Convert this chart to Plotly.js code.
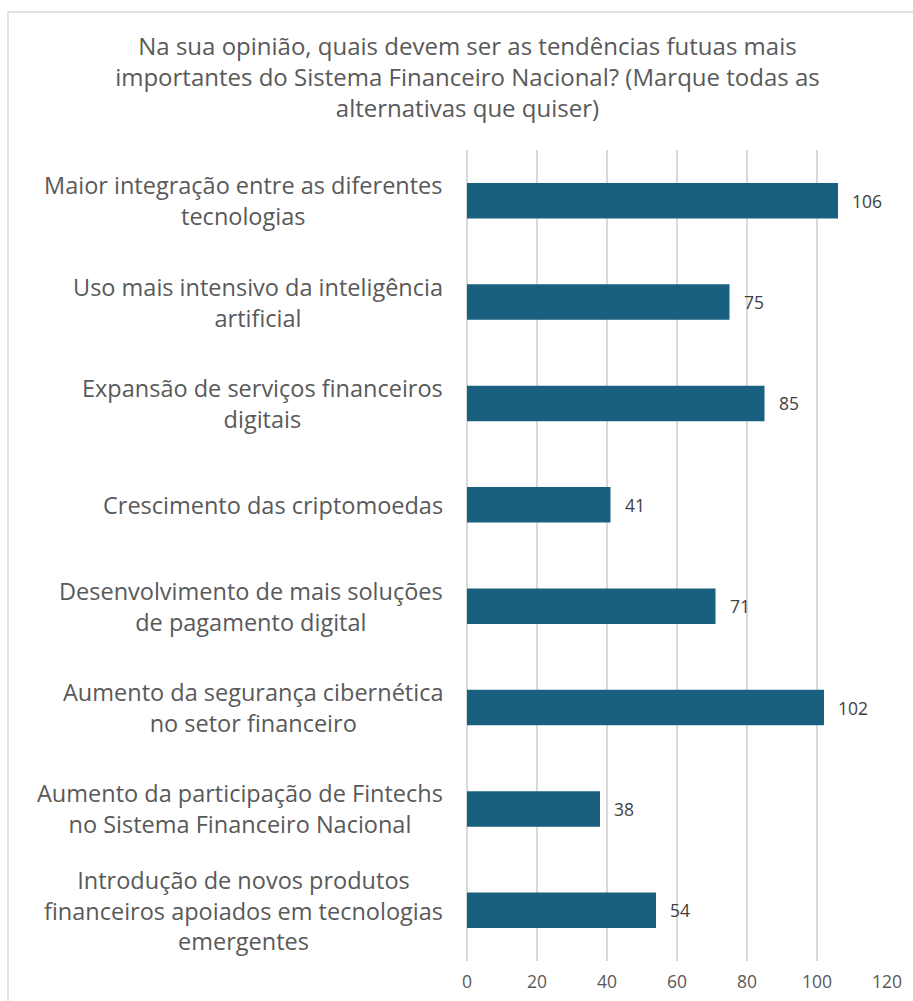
<!DOCTYPE html>
<html>
<head>
<meta charset="utf-8">
<script src="https://cdn.plot.ly/plotly-3.0.1.min.js"></script>
<style>
html,body{margin:0;padding:0;background:#fff;}
#chart{width:913px;height:1001px;}
</style>
</head>
<body>
<div id="chart"></div>
<script>
const categories = [
  "Maior integração entre as diferentes<br>tecnologias",
  "Uso mais intensivo da inteligência<br>artificial",
  "Expansão de serviços financeiros<br>digitais",
  "Crescimento das criptomoedas",
  "Desenvolvimento de mais soluções<br>de pagamento digital",
  "Aumento da segurança cibernética<br>no setor financeiro",
  "Aumento da participação de Fintechs<br>no Sistema Financeiro Nacional",
  "Introdução de novos produtos<br>financeiros apoiados em tecnologias<br>emergentes"
];
const values = [106, 75, 85, 41, 71, 102, 38, 54];
const tickValues = [0, 20, 40, 60, 80, 100, 120];
const titleText = "Na sua opinião, quais devem ser as tendências futuas mais<br>importantes do Sistema Financeiro Nacional? (Marque todas as<br>alternativas que quiser)";

const W = 913, H = 1001;
const mL = 467, mR = 26, mT = 150, mB = 40;
const pw = W - mL - mR, ph = H - mT - mB;
const FONT = "Open Sans, sans-serif";
const GRAY = "#595959";

const annotations = [];
categories.forEach((c, i) => {
  annotations.push({
    x: 0, xref: "paper", y: c, yref: "y",
    text: c, showarrow: false, xanchor: "right", align: "center",
    xshift: -22, font: {family: FONT, size: 23.5, color: GRAY}
  });
  annotations.push({
    x: values[i], xref: "x", y: c, yref: "y",
    text: String(values[i]), showarrow: false, xanchor: "left",
    xshift: 12, font: {family: FONT, size: 17.5, color: "#404040"}
  });
});

const data = [{
  type: "bar",
  orientation: "h",
  y: categories,
  x: values,
  marker: {color: "#185f80"},
  hoverinfo: "none"
}];

const layout = {
  width: W, height: H,
  margin: {l: mL, r: mR, t: mT, b: mB},
  paper_bgcolor: "#fff", plot_bgcolor: "#fff",
  showlegend: false,
  bargap: 0.65,
  title: {
    text: titleText,
    font: {family: FONT, size: 24, color: GRAY},
    xref: "container", x: 0.512, xanchor: "center",
    yref: "container", y: 1 - 55/H, yanchor: "top"
  },
  xaxis: {
    range: [0, 120],
    tickvals: tickValues,
    showgrid: true, gridcolor: "#d9d9d9", gridwidth: 1.5,
    zeroline: true, zerolinecolor: "#d9d9d9", zerolinewidth: 1.5,
    showline: false, ticks: "",
    ticklabelstandoff: 8,
    tickfont: {family: FONT, size: 17.5, color: GRAY},
    fixedrange: true
  },
  yaxis: {
    autorange: "reversed",
    showticklabels: false, showgrid: false, zeroline: false, ticks: "",
    fixedrange: true
  },
  annotations: annotations,
  shapes: [
    {type: "line", xref: "paper", yref: "paper",
     x0: (8 - mL)/pw, x1: (8 - mL)/pw, y0: (H - mB - 12)/ph, y1: -mB/ph - 0.01,
     line: {color: "#d9d9d9", width: 1.5}},
    {type: "line", xref: "paper", yref: "paper",
     x0: (8 - mL)/pw, x1: (W + 5 - mL)/pw, y0: (H - mB - 12)/ph, y1: (H - mB - 12)/ph,
     line: {color: "#d9d9d9", width: 1.5}}
  ]
};

Plotly.newPlot("chart", data, layout, {displayModeBar: false, staticPlot: true});
</script>
</body>
</html>
